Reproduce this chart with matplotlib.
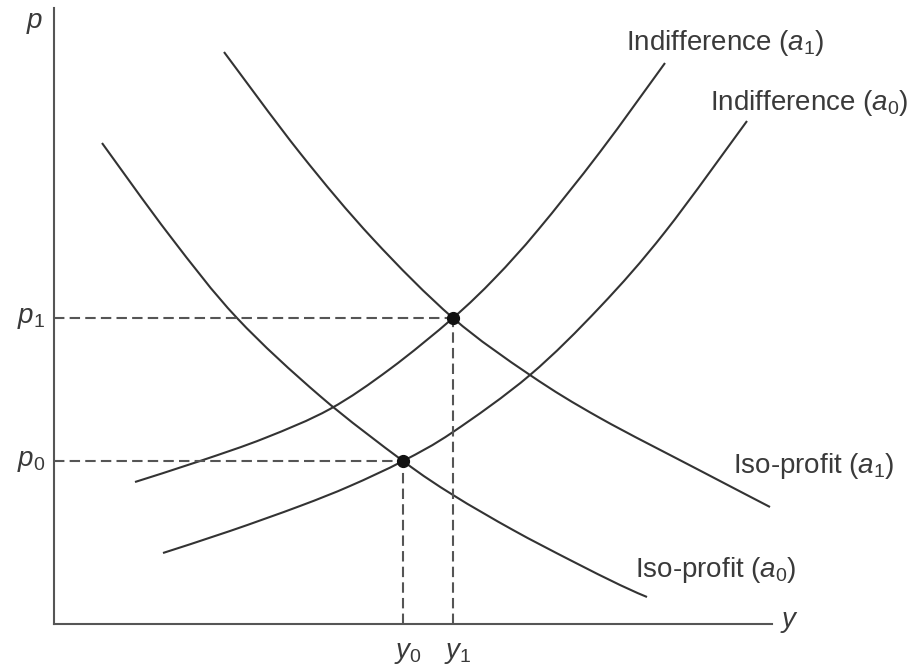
import matplotlib.pyplot as plt
from matplotlib.path import Path
from matplotlib.patches import PathPatch

plt.rcParams['font.family'] = ['Liberation Sans', 'DejaVu Sans']
plt.rcParams['mathtext.fontset'] = 'custom'
plt.rcParams['mathtext.rm'] = 'Liberation Sans'
plt.rcParams['mathtext.it'] = 'Liberation Sans:italic'
plt.rcParams['mathtext.bf'] = 'Liberation Sans:bold'

# curves (y = output, p = price)
iso_a0_y = [0.48, 1.16, 1.83, 2.66, 3.49, 3.99, 4.59, 5.16, 5.66, 5.93]
iso_a0_p = [4.81, 3.88, 3.06, 2.28, 1.63, 1.29, 0.94, 0.64, 0.39, 0.27]

iso_a1_y = [1.70, 2.46, 3.19, 3.99, 4.76, 5.46, 6.43, 7.16]
iso_a1_p = [5.72, 4.71, 3.85, 3.06, 2.49, 2.06, 1.55, 1.17]

ind_a1_y = [0.81, 1.46, 2.11, 2.76, 3.36, 3.99, 4.41, 4.84, 5.46, 6.11]
ind_a1_p = [1.42, 1.63, 1.86, 2.15, 2.55, 3.06, 3.46, 3.94, 4.72, 5.61]

ind_a0_y = [1.09, 1.76, 2.46, 2.96, 3.49, 3.99, 4.76, 5.46, 6.11, 6.93]
ind_a0_p = [0.71, 0.93, 1.18, 1.38, 1.63, 1.92, 2.49, 3.17, 3.92, 5.03]

# equilibria
eq_y = [3.49, 3.99]
eq_p = [1.63, 3.06]
eq_ylabels = [r'$y_0$', r'$y_1$']
eq_plabels = [r'$p_0$', r'$p_1$']

curve_labels = [r'Indifference ($a_1$)', r'Indifference ($a_0$)',
                r'Iso-profit ($a_1$)', r'Iso-profit ($a_0$)']
label_pos = [(5.72, 5.74), (6.56, 5.14), (6.79, 1.51), (5.81, 0.47)]


def smooth_path(xs, ys):
    # smooth line through the read points (Catmull-Rom as cubic beziers)
    n = len(xs)
    verts = [(xs[0], ys[0])]
    codes = [Path.MOVETO]
    for i in range(n - 1):
        a = max(i - 1, 0)
        d = min(i + 2, n - 1)
        c1 = (xs[i] + (xs[i+1] - xs[a]) / 6, ys[i] + (ys[i+1] - ys[a]) / 6)
        c2 = (xs[i+1] - (xs[d] - xs[i]) / 6, ys[i+1] - (ys[d] - ys[i]) / 6)
        verts += [c1, c2, (xs[i+1], ys[i+1])]
        codes += [Path.CURVE4] * 3
    return Path(verts, codes)


fig = plt.figure(figsize=(9.18, 6.68), dpi=100)
ax = fig.add_axes([54/918, 44/668, 718/918, 616/668])
ax.set_xlim(0, 7.18)
ax.set_ylim(0, 6.16)

line_c = '#333333'
txt_c = '#3a3a3a'
for xs, ys in [(iso_a0_y, iso_a0_p), (iso_a1_y, iso_a1_p),
               (ind_a1_y, ind_a1_p), (ind_a0_y, ind_a0_p)]:
    ax.add_patch(PathPatch(smooth_path(xs, ys), fill=False, edgecolor=line_c,
                           lw=1.5, capstyle='butt', clip_on=False))

for yy, pp in zip(eq_y, eq_p):
    ax.plot([0, yy], [pp, pp], color='#555555', lw=1.5, linestyle=(0, (5, 2.5)))
    ax.plot([yy, yy], [0, pp], color='#555555', lw=1.5, linestyle=(0, (5, 2.5)))
ax.plot(eq_y, eq_p, 'o', color='#111111', ms=8.5, zorder=5)

for yy, lab in zip(eq_y, eq_ylabels):
    ax.text(yy + 0.05, -0.16, lab, ha='center', va='top', fontsize=20, color=txt_c)
for pp, lab in zip(eq_p, eq_plabels):
    ax.text(-0.09, pp, lab, ha='right', va='center', fontsize=20, color=txt_c)

for lab, (tx, ty) in zip(curve_labels, label_pos):
    ax.text(tx, ty, lab, ha='left', va='baseline', fontsize=20, color=txt_c)

ax.text(-0.19, 5.96, r'$p$', ha='center', va='baseline', fontsize=20, color=txt_c)
ax.text(7.35, 0.02, r'$y$', ha='center', va='center', fontsize=20, color=txt_c)

for s in ['top', 'right']:
    ax.spines[s].set_visible(False)
for s in ['left', 'bottom']:
    ax.spines[s].set_color('#555555')
    ax.spines[s].set_linewidth(1.5)
ax.set_xticks([])
ax.set_yticks([])

plt.savefig('out.png', dpi=100)
